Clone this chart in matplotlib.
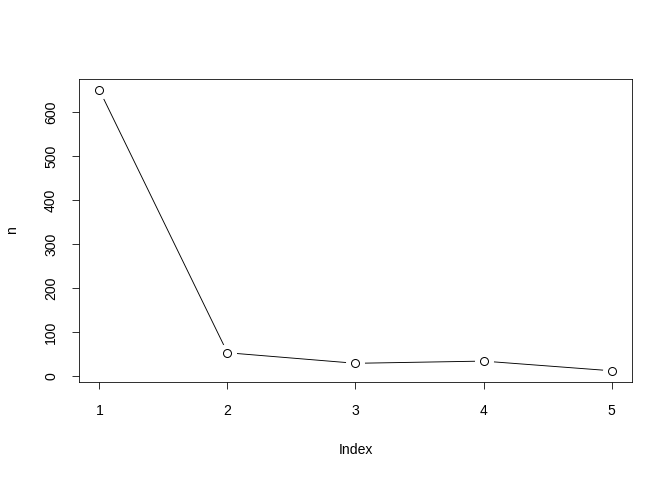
import numpy as np
import matplotlib.pyplot as plt

# data (R base plot, type="b")
index = [1, 2, 3, 4, 5]
n = [650, 53, 29, 34, 12]

plt.rcParams['font.family'] = ['Liberation Sans', 'DejaVu Sans']
plt.rcParams['font.size'] = 14

fig = plt.figure(figsize=(672 / 72, 480 / 72), dpi=72)
ax = fig.add_axes([79 / 672, 1 - 382 / 480, (632 - 79) / 672, (382 - 79) / 480])

# line first, then white disks to make the gaps, then open circles
ax.plot(index, n, color='black', linewidth=0.9, zorder=1)
ax.plot(index, n, linestyle='none', marker='o', markersize=18,
        markerfacecolor='white', markeredgecolor='white', zorder=2)
ax.plot(index, n, linestyle='none', marker='o', markersize=8,
        markerfacecolor='white', markeredgecolor='black', markeredgewidth=1, zorder=3)

# R default axis extension of 4%
xr = max(index) - min(index)
yr = max(n) - min(n)
ax.set_xlim(min(index) - 0.04 * xr, max(index) + 0.04 * xr)
ax.set_ylim(min(n) - 0.04 * yr, max(n) + 0.04 * yr)

ax.set_xticks(index)
ax.set_yticks(np.arange(0, 601, 100))
for lab in ax.get_yticklabels():
    lab.set_rotation(90)
    lab.set_va('center')
ax.tick_params(axis='both', direction='out', length=7, width=0.8, color='black')
ax.tick_params(axis='x', pad=15)
ax.tick_params(axis='y', pad=14)

for s in ax.spines.values():
    s.set_linewidth(0.8)

ax.set_xlabel('Index', labelpad=25)
ax.set_ylabel('n', labelpad=25)

fig.savefig('out.png', dpi=72)
